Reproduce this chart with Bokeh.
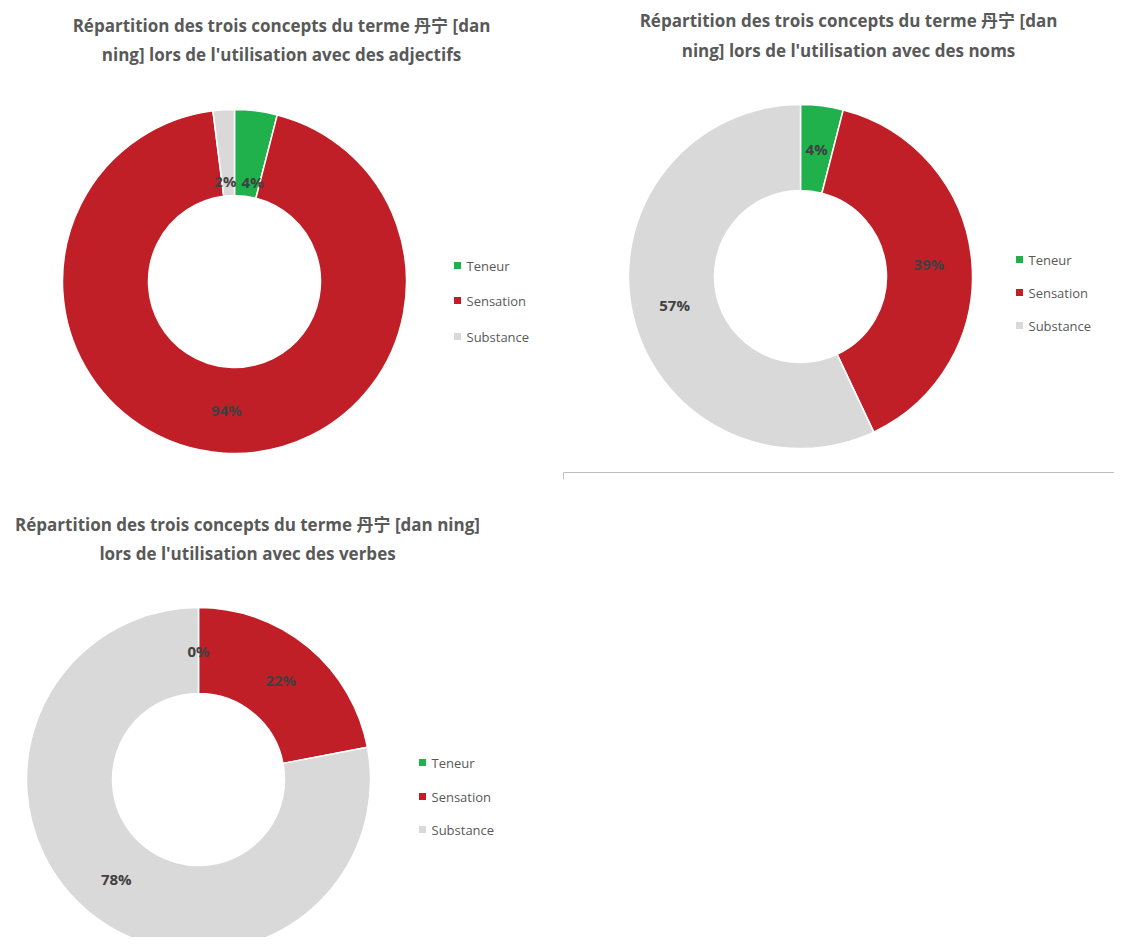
import numpy as np
from bokeh.plotting import figure
from bokeh.models import Range1d
from bokeh.core.properties import value
from bokeh.embed import file_html
from bokeh.resources import INLINE

# ---------------- data ----------------
categories = ["Teneur", "Sensation", "Substance"]
colors = ["#21B14C", "#C01F27", "#D9D9D9"]

adjectifs = [4, 94, 2]
noms = [4, 39, 57]
verbes = [0, 22, 78]

title_adjectifs = ["Répartition des trois concepts du terme 丹宁 [dan",
                   "ning] lors de l'utilisation avec des adjectifs"]
title_noms = ["Répartition des trois concepts du terme 丹宁 [dan",
              "ning] lors de l'utilisation avec des noms"]
title_verbes = ["Répartition des trois concepts du terme 丹宁 [dan ning]",
                "lors de l'utilisation avec des verbes"]

# ---------------- layout (screenshot pixel coordinates) ----------------
W, H = 1114, 937


def px(x):
    return x


def py(y):
    return H - y


charts = [
    dict(values=adjectifs, title=title_adjectifs, title_x=281, title_y=[25, 54],
         cx=234, cy=281, leg_x=457, leg_y=[265, 300, 336],
         label_shift={0: (2, 28), 2: (-1, 28)}),
    dict(values=noms, title=title_noms, title_x=848, title_y=[20, 50],
         cx=800, cy=276, leg_x=1019, leg_y=[259, 292, 325], label_shift={}),
    dict(values=verbes, title=title_verbes, title_x=247, title_y=[524, 553],
         cx=198, cy=779, leg_x=422, leg_y=[762, 796, 829], label_shift={}),
]

R_OUT, R_IN = 172, 86
FONT = "'Open Sans', 'Noto Sans CJK SC', sans-serif"

p = figure(width=W, height=H, x_range=Range1d(0, W), y_range=Range1d(0, H),
           output_backend="svg", toolbar_location=None, min_border=0,
           x_axis_type=None, y_axis_type=None)
p.grid.visible = False
p.outline_line_color = None
p.background_fill_color = "white"
p.border_fill_color = "white"

for ch in charts:
    vals = np.array(ch["values"], dtype=float)
    total = vals.sum()
    cum = np.concatenate([[0], np.cumsum(vals)]) / total
    cx, cy = px(ch["cx"]), py(ch["cy"])
    # slices
    for i, v in enumerate(vals):
        if v <= 0:
            continue
        start = np.pi / 2 - 2 * np.pi * cum[i]
        end = np.pi / 2 - 2 * np.pi * cum[i + 1]
        p.annular_wedge(x=[cx], y=[cy], inner_radius=R_IN, outer_radius=R_OUT,
                        start_angle=start, end_angle=end, direction="clock",
                        fill_color=colors[i], line_color="white", line_width=1.5)
    # data labels
    rmid = (R_IN + R_OUT) / 2
    lx, ly, lt = [], [], []
    for i, v in enumerate(vals):
        mid = 2 * np.pi * (cum[i] + cum[i + 1]) / 2
        x = ch["cx"] + rmid * np.sin(mid)
        y = ch["cy"] - rmid * np.cos(mid)
        dx, dy = ch["label_shift"].get(i, (0, 0))
        lx.append(px(x + dx))
        ly.append(py(y + dy))
        lt.append(f"{int(v)}%")
    p.text(x=lx, y=ly, text=lt, text_font=value(FONT), text_font_style="bold",
           text_font_size="15px", text_color="#404040",
           text_align="center", text_baseline="middle")
    # title
    p.text(x=[px(ch["title_x"])] * 2, y=[py(t) for t in ch["title_y"]],
           text=ch["title"], text_font=value(FONT), text_font_style="bold",
           text_font_size="17px", text_color="#595959",
           text_align="center", text_baseline="middle")
    # legend
    p.scatter(x=[px(ch["leg_x"])] * 3, y=[py(t) for t in ch["leg_y"]],
              marker="square", size=7, fill_color=colors, line_color=None)
    p.text(x=[px(ch["leg_x"] + 9)] * 3, y=[py(t) for t in ch["leg_y"]],
           text=categories, text_font=value(FONT), text_font_size="13px",
           text_color="#595959", text_align="left", text_baseline="middle")

# frame line under the second chart
p.segment(x0=[px(563), px(563)], y0=[py(472), py(472)],
          x1=[px(1122), px(563)], y1=[py(472), py(479)],
          line_color="#BFBFBF", line_width=1)

open("out.html", "w").write(file_html(p, INLINE))
